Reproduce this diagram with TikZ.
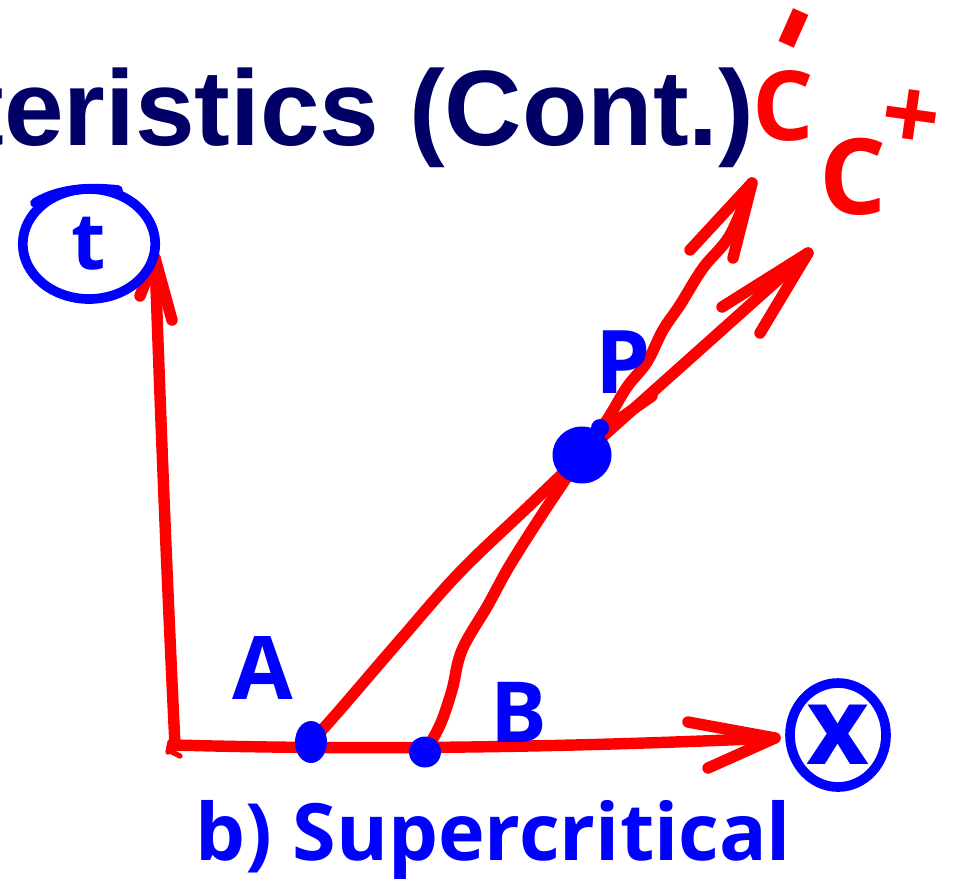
\documentclass[tikz,border=0pt]{standalone}
\usepackage{fontspec}
\setmainfont{Liberation Sans}
\newfontfamily\hand{Open Sans}
\usetikzlibrary{shapes.geometric}
\definecolor{penred}{RGB}{255,0,0}
\definecolor{penblue}{RGB}{0,0,255}
\definecolor{titlenavy}{RGB}{0,0,102}
\begin{document}
\begin{tikzpicture}[x=0.02cm,y=-0.02cm,
  redpen/.style={draw=penred,line width=6.5pt,line cap=round,line join=round},
  bluepen/.style={draw=penblue,line width=5.5pt,line cap=round,line join=round},
  dot/.style={fill=penblue,ellipse,inner sep=0pt},
  lbl/.style={text=penblue,inner sep=0pt},
  rlbl/.style={text=penred,inner sep=0pt},
  ring/.style={draw=penblue,line width=5.5pt,ellipse,inner sep=0pt,text=penblue}]
\useasboundingbox (0,0) rectangle (970,894);
\clip (0,0) rectangle (970,894);

% title
\node[anchor=base west,inner sep=0pt,text=titlenavy,
      font=\fontsize{61}{61}\selectfont\bfseries] (title) at (-32,145) {teristics (Cont.)};

% key points
\coordinate (O) at (175,745);
\coordinate (ttip) at (155,258);
\coordinate (xtip) at (775,738);
\coordinate (cptip) at (808,253);
\coordinate (cmtip) at (752,183);

% axes
\draw[redpen] (O) .. controls (166,560) and (160,400) .. (ttip);
\draw[redpen] (140,296) -- (ttip) -- (172,320);
\draw[redpen] (O) .. controls (350,750) and (550,748) .. (xtip);
\draw[redpen] (688,722) -- (xtip) -- (708,768);
\draw[redpen,line width=3pt] (170,742) -- (168,752) (172,752) -- (180,756);

% characteristic lines
\coordinate (Ac) at (311,742);
\coordinate (Bc) at (425,752);
\coordinate (Pc) at (582,455);
\draw[redpen] plot[smooth,tension=0.6] coordinates {(Ac) (338,712) (400,640) (460,572) (530,505) (Pc)};
\draw[redpen] plot[smooth,tension=0.6] coordinates {(Bc) (440,725) (452,690) (462,650) (488,605) (510,565) (545,510) (Pc)};
\draw[redpen] (Pc) -- (cptip);
\draw[redpen] (722,307) -- (cptip) -- (760,333);
\draw[redpen] plot[smooth,tension=0.6] coordinates {(Pc) (607,420) (627,387) (647,362) (663,330) (680,305) (703,268) (730,235) (cmtip)};
\draw[redpen] (690,250) -- (cmtip) -- (733,258);
\draw[redpen] (652,396) -- (625,415) -- (605,428);

% points
\node[dot,minimum width=0.64cm,minimum height=0.84cm] (A) at (Ac) {};
\node[dot,minimum width=0.64cm,minimum height=0.62cm] (B) at (Bc) {};
\node[dot,minimum width=1.18cm,minimum height=1.14cm] (P) at (Pc) {};
\fill[penblue] (600,428) circle (9);

% axis labels in rings
\node[ring,minimum width=2.65cm,minimum height=2.2cm,
      font=\hand\bfseries\fontsize{45}{45}\selectfont] (tlab) at (89,244) {t};
\draw[bluepen] (35,203) .. controls (60,188) and (90,187) .. (118,190);
\node[ring,minimum width=1.92cm,minimum height=2.08cm,
      font=\hand\bfseries\fontsize{62}{62}\selectfont] (xlab) at (838,735) {x};

% point labels
\node[lbl,font=\hand\bfseries\fontsize{50}{50}\selectfont] (lA) at (263,668) {A};
\node[lbl,font=\hand\bfseries\fontsize{48}{48}\selectfont] (lB) at (519,712) {B};
\node[lbl,font=\hand\bfseries\fontsize{50}{50}\selectfont] (lP) at (623,362) {P};

% characteristic labels
\node[rlbl,font=\hand\bfseries\fontsize{55}{55}\selectfont] (cm) at (783,106) {C};
\node[rlbl,rotate=66,font=\hand\bfseries\fontsize{78}{78}\selectfont] (cmsign) at (807,34) {-};
\node[rlbl,font=\hand\bfseries\fontsize{60}{60}\selectfont] (cp) at (853,177) {C};
\node[rlbl,rotate=-8,font=\hand\bfseries\fontsize{58}{58}\selectfont] (cpsign) at (911,120) {+};

% caption
\node[lbl,anchor=base west,font=\hand\bfseries\fontsize{45}{45}\selectfont] (cap) at (195,860) {b) Supercritical};
\end{tikzpicture}
\end{document}
